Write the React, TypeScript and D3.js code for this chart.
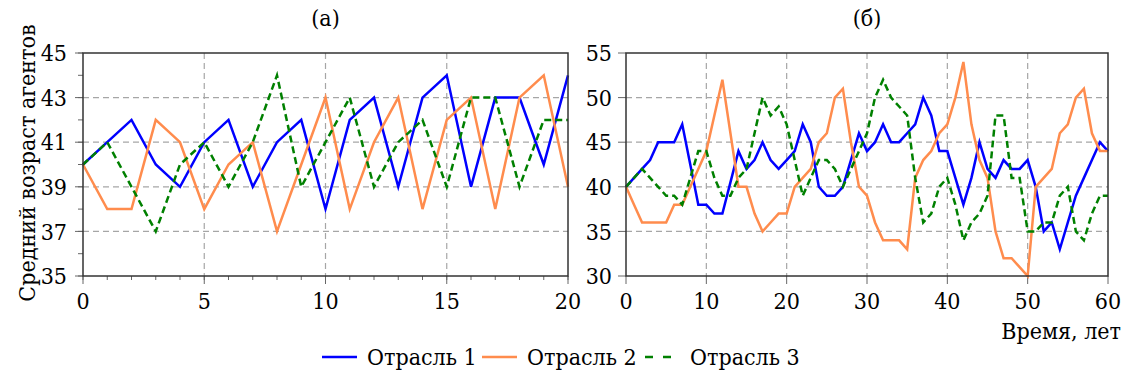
import { useEffect, useRef } from "react";
import * as d3 from "d3";

// Panel titles and labels
const titleA = "(а)";
const titleB = "(б)";
const yTitle = "Средний возраст агентов";
const xTitle = "Время, лет";
const seriesNames = ["Отрасль 1", "Отрасль 2", "Отрасль 3"];
const seriesColors = ["#0000ff", "#ff8c4d", "#008000"];

// Panel (а): 0..20 years
const yearsA = d3.range(0, 21);
const a1 = [40, 41, 42, 40, 39, 41, 42, 39, 41, 42, 38, 42, 43, 39, 43, 44, 39, 43, 43, 40, 44];
const a2 = [40, 38, 38, 42, 41, 38, 40, 41, 37, 40, 43, 38, 41, 43, 38, 42, 43, 38, 43, 44, 39];
const a3 = [40, 41, 39, 37, 40, 41, 39, 41, 44, 39, 41, 43, 39, 41, 42, 39, 43, 43, 39, 42, 42];
const yTicksA = [35, 37, 39, 41, 43, 45];
const xTicksA = [0, 5, 10, 15, 20];

// Panel (б): 0..60 years
const yearsB = d3.range(0, 61);
const b1 = [40, 41, 42, 43, 45, 45, 45, 47, 42.5, 38, 38, 37, 37, 40.5, 44, 42, 43, 45, 43, 42,
  43, 44, 47, 45, 40, 39, 39, 40, 43, 46, 44, 45, 47, 45, 45, 46, 47, 50, 48, 44,
  44, 41, 38, 41, 45, 42, 41, 43, 42, 42, 43, 40, 35, 36, 33, 36, 39, 41, 43, 45, 44];
const b2 = [40, 38, 36, 36, 36, 36, 38, 38, 40, 42, 44, 48, 52, 46, 40, 40, 37, 35, 36, 37,
  37, 40, 41, 42, 45, 46, 50, 51, 45, 40, 39, 36, 34, 34, 34, 33, 41, 43, 44, 46,
  47, 50, 54, 47, 43, 41, 35, 32, 32, 31, 30, 40, 41, 42, 46, 47, 50, 51, 46, 44, 44];
const b3 = [40, 41, 42, 41, 40, 39, 39, 38, 41, 44, 44, 41, 39, 39, 41, 42, 46, 50, 48, 49,
  47, 43, 39, 41, 43, 43, 42, 40, 42, 44, 46, 50, 52, 50, 49, 48, 41, 36, 37, 40,
  41, 38, 34, 36, 37, 39, 48, 48, 41, 41, 35, 35, 36, 36, 39, 40, 35, 34, 37, 39, 39];
const yTicksB = [30, 35, 40, 45, 50, 55];
const xTicksB = [0, 10, 20, 30, 40, 50, 60];

const FONT = "'DejaVu Serif Condensed', 'DejaVu Serif', serif";
const FS = "23px";

export default function App() {
  const svgRef = useRef<SVGSVGElement | null>(null);

  useEffect(() => {
    if (!svgRef.current) return;
    document.body.style.margin = "0";
    const svg = d3.select(svgRef.current);
    svg.selectAll("*").remove();

    function drawPanel(opts: {
      years: number[];
      series: number[][];
      xDomain: [number, number];
      yDomain: [number, number];
      left: number;
      right: number;
      top: number;
      bottom: number;
      xTicks: number[];
      yTicks: number[];
      xMinor: number[];
      yMinor: number[];
      labelGap: number;
      title: string;
    }) {
      const x = d3.scaleLinear().domain(opts.xDomain).range([opts.left, opts.right]);
      const y = d3.scaleLinear().domain(opts.yDomain).range([opts.bottom, opts.top]);
      const g = svg.append("g");

      // grid
      g.selectAll(".hgrid")
        .data(opts.yTicks.slice(1, -1))
        .enter()
        .append("line")
        .attr("x1", opts.left)
        .attr("x2", opts.right)
        .attr("y1", (d) => y(d))
        .attr("y2", (d) => y(d))
        .attr("stroke", "#a6a6a6")
        .attr("stroke-width", 1.2)
        .attr("stroke-dasharray", "6,4");
      g.selectAll(".vgrid")
        .data(opts.xTicks.slice(1, -1))
        .enter()
        .append("line")
        .attr("x1", (d) => x(d))
        .attr("x2", (d) => x(d))
        .attr("y1", opts.top)
        .attr("y2", opts.bottom)
        .attr("stroke", "#a6a6a6")
        .attr("stroke-width", 1.2)
        .attr("stroke-dasharray", "6,4");

      // ticks
      const tickColor = "#666";
      g.selectAll(".xminor")
        .data(opts.xMinor)
        .enter()
        .append("line")
        .attr("x1", (d) => x(d))
        .attr("x2", (d) => x(d))
        .attr("y1", opts.bottom)
        .attr("y2", opts.bottom + 4)
        .attr("stroke", tickColor)
        .attr("stroke-width", 1);
      g.selectAll(".xmajor")
        .data(opts.xTicks)
        .enter()
        .append("line")
        .attr("x1", (d) => x(d))
        .attr("x2", (d) => x(d))
        .attr("y1", opts.bottom)
        .attr("y2", opts.bottom + 8)
        .attr("stroke", tickColor)
        .attr("stroke-width", 1);
      g.selectAll(".yminor")
        .data(opts.yMinor)
        .enter()
        .append("line")
        .attr("x1", opts.left - 5)
        .attr("x2", opts.left)
        .attr("y1", (d) => y(d))
        .attr("y2", (d) => y(d))
        .attr("stroke", tickColor)
        .attr("stroke-width", 1);
      g.selectAll(".ymajor")
        .data(opts.yTicks)
        .enter()
        .append("line")
        .attr("x1", opts.left - 8)
        .attr("x2", opts.left)
        .attr("y1", (d) => y(d))
        .attr("y2", (d) => y(d))
        .attr("stroke", tickColor)
        .attr("stroke-width", 1);

      // tick labels
      g.selectAll(".xlab")
        .data(opts.xTicks)
        .enter()
        .append("text")
        .attr("x", (d) => x(d))
        .attr("y", opts.bottom + 33)
        .attr("text-anchor", "middle")
        .style("font-family", FONT)
        .style("font-size", FS)
        .text((d) => d);
      g.selectAll(".ylab")
        .data(opts.yTicks)
        .enter()
        .append("text")
        .attr("x", opts.left - opts.labelGap)
        .attr("y", (d) => y(d))
        .attr("dy", "0.36em")
        .attr("text-anchor", "end")
        .style("font-family", FONT)
        .style("font-size", FS)
        .text((d) => d);

      // lines
      opts.series.forEach((vals, i) => {
        const line = d3
          .line<number>()
          .x((_, j) => x(opts.years[j]))
          .y((d) => y(d));
        g.append("path")
          .attr("d", line(vals) as string)
          .attr("fill", "none")
          .attr("stroke", seriesColors[i])
          .attr("stroke-width", 2.5)
          .attr("stroke-linejoin", "miter")
          .attr("stroke-dasharray", i === 2 ? "7,4" : null);
      });

      // frame
      g.append("rect")
        .attr("x", opts.left)
        .attr("y", opts.top)
        .attr("width", opts.right - opts.left)
        .attr("height", opts.bottom - opts.top)
        .attr("fill", "none")
        .attr("stroke", "#333")
        .attr("stroke-width", 1.5);

      // title
      g.append("text")
        .attr("x", (opts.left + opts.right) / 2)
        .attr("y", 26)
        .attr("text-anchor", "middle")
        .style("font-family", FONT)
        .style("font-size", FS)
        .text(opts.title);
    }

    drawPanel({
      years: yearsA,
      series: [a1, a2, a3],
      xDomain: [0, 20],
      yDomain: [35, 45],
      left: 83,
      right: 568,
      top: 53,
      bottom: 276,
      xTicks: xTicksA,
      yTicks: yTicksA,
      xMinor: d3.range(0, 21),
      yMinor: d3.range(35, 46),
      labelGap: 16,
      title: titleA,
    });

    drawPanel({
      years: yearsB,
      series: [b1, b2, b3],
      xDomain: [0, 60],
      yDomain: [30, 55],
      left: 626,
      right: 1108,
      top: 53,
      bottom: 276,
      xTicks: xTicksB,
      yTicks: yTicksB,
      xMinor: [],
      yMinor: [],
      labelGap: 14,
      title: titleB,
    });

    // y axis title
    svg.append("text")
      .attr("transform", "translate(27,163) rotate(-90)")
      .attr("text-anchor", "middle")
      .attr("dy", "0.36em")
      .style("font-family", FONT)
      .style("font-size", FS)
      .text(yTitle);

    // x axis title
    svg.append("text")
      .attr("x", 1121)
      .attr("y", 339)
      .attr("text-anchor", "end")
      .style("font-family", FONT)
      .style("font-size", FS)
      .text(xTitle);

    // legend
    const legendItems = [
      { x: 322, textX: 367 },
      { x: 482, textX: 527 },
      { x: 645, textX: 690 },
    ];
    legendItems.forEach((it, i) => {
      svg.append("line")
        .attr("x1", it.x)
        .attr("x2", it.x + 35)
        .attr("y1", 357)
        .attr("y2", 357)
        .attr("stroke", seriesColors[i])
        .attr("stroke-width", 2.5)
        .attr("stroke-dasharray", i === 2 ? "8,10" : null);
      svg.append("text")
        .attr("x", it.textX)
        .attr("y", 357)
        .attr("dy", "0.36em")
        .style("font-family", FONT)
        .style("font-size", FS)
        .text(seriesNames[i]);
    });
  }, []);

  return (
    <div style={{ position: "absolute", left: 0, top: 0 }}>
      <svg ref={svgRef} width={1126} height={376} style={{ display: "block", background: "#fff" }} />
    </div>
  );
}
